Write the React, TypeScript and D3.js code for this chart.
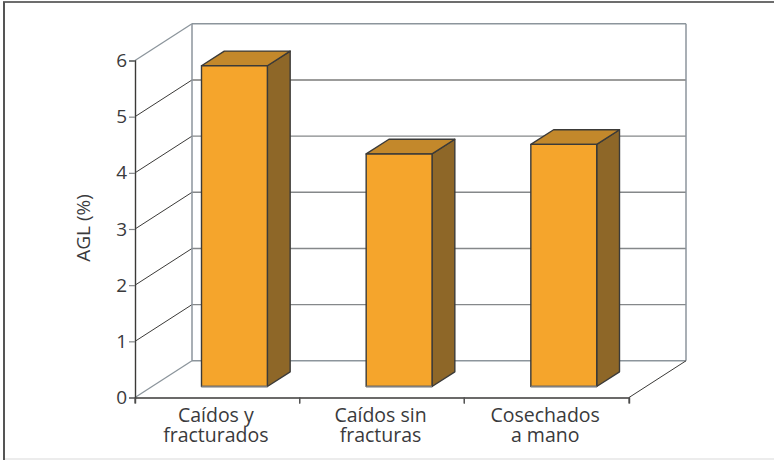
import React, { useEffect, createRef } from 'react';
import * as d3 from 'd3';

const categories = ['Caídos y|fracturados', 'Caídos sin|fracturas', 'Cosechados|a mano'];
const values = [5.71, 4.14, 4.31];
const yTicks = [0, 1, 2, 3, 4, 5, 6];
// only this level is drawn dark on the back wall, the rest are grey
const darkLevels = [5];

const FONT = '"Open Sans", sans-serif';
const TEXT = '#3a3a3c';
const DARK = '#3b3a38';
const GREY = '#8c959c';

export default function App() {
  const svgRef = createRef<SVGSVGElement>();

  useEffect(() => {
    const svg = d3.select(svgRef.current);
    svg.selectAll('*').remove();

    const xScale = d3.scaleBand<string>().domain(categories).range([135, 629]);
    const yScale = d3.scaleLinear().domain([0, 6]).range([397.5, 60.5]);
    // depth of the 3d box
    const dx = 57;
    const dy = -36.7;
    const bw = xScale.bandwidth();

    // outer frame
    svg.append('line').attr('x1', 3).attr('x2', 774).attr('y1', 2).attr('y2', 2).attr('stroke', '#3d3d3d').attr('stroke-width', 1.5);
    svg.append('line').attr('x1', 4).attr('x2', 4).attr('y1', 2).attr('y2', 460).attr('stroke', '#555').attr('stroke-width', 2);
    svg.append('line').attr('x1', 5).attr('x2', 774).attr('y1', 459).attr('y2', 459).attr('stroke', '#e6e6e6').attr('stroke-width', 1.5);

    // back wall grid and side wall diagonals
    const x0 = xScale.range()[0];
    const x1 = xScale.range()[1];
    yTicks.forEach((t) => {
      const y = yScale(t);
      const dark = darkLevels.includes(t);
      svg.append('line')
        .attr('x1', x0 + dx).attr('x2', x1 + dx)
        .attr('y1', y + dy).attr('y2', y + dy)
        .attr('stroke', dark ? DARK : t === 0 || t === 6 ? GREY : '#85888a')
        .attr('stroke-width', dark ? 1.1 : 1.4);
      svg.append('line')
        .attr('x1', x0).attr('x2', x0 + dx)
        .attr('y1', y).attr('y2', y + dy)
        .attr('stroke', t === 0 || t === 6 ? GREY : DARK)
        .attr('stroke-width', t === 0 || t === 6 ? 1.3 : 1);
    });
    [x0 + dx, x1 + dx].forEach((x) => {
      svg.append('line')
        .attr('x1', x).attr('x2', x)
        .attr('y1', yScale(6) + dy).attr('y2', yScale(0) + dy)
        .attr('stroke', GREY).attr('stroke-width', 1.5);
    });
    svg.append('line')
      .attr('x1', x1).attr('x2', x1 + dx)
      .attr('y1', yScale(0)).attr('y2', yScale(0) + dy)
      .attr('stroke', DARK).attr('stroke-width', 1);

    // bars
    const front = 0.3;
    const back = 0.7;
    categories.forEach((c, i) => {
      const xl = xScale(c)! + bw * 0.3 + dx * front;
      const xr = xl + bw * 0.4;
      const off = dy * front;
      const yb = yScale(0) + off;
      const yt = yScale(values[i]) + off;
      const ddx = dx * (back - front);
      const ddy = dy * (back - front);
      const g = svg.append('g').attr('stroke', DARK).attr('stroke-width', 1.4).attr('stroke-linejoin', 'round');
      g.append('path')
        .attr('d', d3.line()([[xr, yt], [xr + ddx, yt + ddy], [xr + ddx, yb + ddy], [xr, yb]]) + 'Z')
        .attr('fill', '#8e6728');
      g.append('path')
        .attr('d', d3.line()([[xl, yt], [xl + ddx, yt + ddy], [xr + ddx, yt + ddy], [xr, yt]]) + 'Z')
        .attr('fill', '#c3882b');
      g.append('rect')
        .attr('x', xl).attr('y', yt)
        .attr('width', xr - xl).attr('height', yb - yt)
        .attr('fill', '#f5a52c');
      // the lower edge of the front face reads grey
      g.append('line')
        .attr('x1', xl).attr('x2', xr).attr('y1', yb).attr('y2', yb)
        .attr('stroke', '#7f7f7f');
    });

    // axes
    const yAxis = d3.axisLeft(yScale).tickValues(yTicks).tickFormat(d3.format('d')).tickSize(6).tickPadding(2);
    const xAxis = d3.axisBottom(xScale).tickValues([]).tickSize(6);
    const yg = svg.append('g').attr('transform', `translate(${x0},0)`).call(yAxis);
    yg.select('.domain').attr('stroke', DARK).attr('stroke-width', 1.4);
    yg.selectAll('.tick line').attr('stroke', '#85888a').attr('stroke-width', 1.2);
    yg.selectAll('text').attr('font-family', FONT).attr('font-size', 19).attr('fill', TEXT);

    const xg = svg.append('g').attr('transform', `translate(0,${yScale(0)})`).call(xAxis);
    xg.select('.domain').attr('stroke', DARK).attr('stroke-width', 1.4);
    categories.forEach((c) => {
      [xScale(c)!, xScale(c)! + bw].forEach((x) => {
        xg.append('line').attr('x1', x).attr('x2', x).attr('y1', 0).attr('y2', 6).attr('stroke', '#555').attr('stroke-width', 1.3);
      });
      const cx = xScale(c)! + bw / 2 - 1.5;
      const label = svg.append('text')
        .attr('text-anchor', 'middle')
        .attr('font-family', FONT).attr('font-size', 19.5).attr('fill', TEXT);
      c.split('|').forEach((part, k) => {
        label.append('tspan').attr('x', cx).attr('y', 422 + k * 20).text(part);
      });
    });

    // y title
    svg.append('text')
      .attr('transform', 'translate(90,228) rotate(-90)')
      .attr('text-anchor', 'middle')
      .attr('font-family', FONT).attr('font-size', 19).attr('fill', TEXT)
      .text('AGL (%)');
  }, []);

  return <svg ref={svgRef} width={774} height={460} style={{ position: 'absolute', left: 0, top: 0 }}></svg>;
}
